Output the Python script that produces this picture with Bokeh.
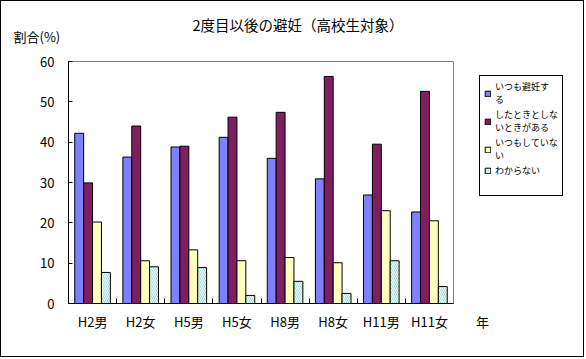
from bokeh.plotting import figure
from bokeh.models import (ColumnDataSource, FixedTicker, Legend, LegendItem, LinearAxis, Span, Title)
from bokeh.transform import dodge
from bokeh.embed import file_html
from bokeh.resources import INLINE

# ---- data ----
categories = ["H2男", "H2女", "H5男", "H5女", "H8男", "H8女", "H11男", "H11女"]
always = [42.2, 36.3, 38.8, 41.2, 36.0, 30.9, 26.9, 22.7]
sometimes = [29.9, 44.0, 39.0, 46.2, 47.4, 56.3, 39.5, 52.6]
never = [20.2, 10.6, 13.3, 10.6, 11.4, 10.1, 23.0, 20.5]
unknown = [7.7, 9.1, 8.9, 2.0, 5.5, 2.5, 10.6, 4.2]
series_names = ["いつも避妊す\nる", "したときとしな\nいときがある", "いつもしていな\nい", "わからない"]
y_ticks = [0, 10, 20, 30, 40, 50, 60]
title_text = "2度目以後の避妊（高校生対象）"
ylabel_text = "割合(%)"
xlabel_text = "年"

FONT = "Noto Sans CJK JP"
N = len(categories)
xc = [i + 0.5 for i in range(N)]
src = ColumnDataSource(dict(x=xc, a=always, s=sometimes, n=never, u=unknown))

# layout: plot area 68..453 px for 8 categories; frame extended to the right for legend / "年"
W, H = 584, 357
ML, MR, MT, MB = 67, 2, 60, 55
px_per_cat = (453 - 68) / N
x_end = (W - ML - MR) / px_per_cat
year_pos = (482 - 68) / px_per_cat

p = figure(width=W, height=H, x_range=(0, x_end), y_range=(0, 60),
           output_backend="svg", toolbar_location=None,
           min_border_left=ML, min_border_right=MR, min_border_top=MT, min_border_bottom=MB)
p.styles = {"border": "1px solid black"}
p.background_fill_color = "white"
p.border_fill_color = "white"
p.outline_line_color = None
p.xgrid.visible = False
p.ygrid.visible = False

bw = 0.185
offs = [-1.5 * bw, -0.5 * bw, 0.5 * bw, 1.5 * bw]
r1 = p.vbar(x=dodge("x", offs[0], range=p.x_range), top="a", width=bw, source=src,
            fill_color="#8080FF", line_color="black", line_width=1)
r2 = p.vbar(x=dodge("x", offs[1], range=p.x_range), top="s", width=bw, source=src,
            fill_color="#801F60", line_color="black", line_width=1)
r3 = p.vbar(x=dodge("x", offs[2], range=p.x_range), top="n", width=bw, source=src,
            fill_color="#FFFFC0", line_color="black", line_width=1)
r4 = p.vbar(x=dodge("x", offs[3], range=p.x_range), top="u", width=bw, source=src,
            fill_color="#9EDEDE", line_color="black", line_width=1,
            hatch_pattern="\\", hatch_color="white", hatch_scale=4, hatch_weight=1)
# invisible renderer used only to give the legend box its empty lower part
r_blank = p.scatter(x=[], y=[], size=0, fill_alpha=0, line_alpha=0)

# bottom axis A: baseline + boundary ticks
ax = p.xaxis[0]
ax.bounds = (0, N)
ax.ticker = FixedTicker(ticks=[], minor_ticks=list(range(0, N + 1)))
ax.minor_tick_in = 5
ax.minor_tick_out = 0
ax.minor_tick_line_color = "black"
ax.major_tick_line_color = None
ax.axis_line_color = "black"
ax.major_label_text_font_size = "0px"
ax.major_label_standoff = 0

# bottom axis B: category labels and "年"
bx = LinearAxis(ticker=FixedTicker(ticks=xc + [year_pos]),
                major_label_overrides={**{c: lab for c, lab in zip(xc, categories)}, year_pos: xlabel_text},
                axis_line_color=None, major_tick_line_color=None, minor_tick_line_color=None,
                major_label_standoff=2, major_label_text_font=FONT,
                major_label_text_font_size="13px", major_label_text_color="black")
p.add_layout(bx, "below")

# top gray border line
tx = LinearAxis(bounds=(0, N), ticker=FixedTicker(ticks=[]), axis_line_color="#808080",
                major_tick_line_color=None, minor_tick_line_color=None,
                major_label_text_font_size="0px", major_label_standoff=0)
p.add_layout(tx, "above")
# right gray border line
p.add_layout(Span(location=N, dimension="height", line_color="#808080", line_width=1))

p.yaxis.ticker = FixedTicker(ticks=y_ticks)
p.yaxis.minor_tick_line_color = None
p.yaxis.major_tick_in = 4
p.yaxis.major_tick_out = 0
p.yaxis.axis_line_color = "black"
p.yaxis.major_tick_line_color = "black"
p.yaxis.major_label_standoff = 14
p.yaxis.major_label_text_font = FONT
p.yaxis.major_label_text_font_size = "13px"
p.yaxis.major_label_text_color = "black"

# texts above
p.add_layout(Title(text=ylabel_text, align="left", offset=13 - 68, text_font=FONT,
                   text_font_size="13px", text_font_style="normal", text_color="black",
                   standoff=31), "above")
p.add_layout(Title(text=title_text, align="left", offset=192 - 68, text_font=FONT,
                   text_font_size="14.5px", text_font_style="normal", text_color="black",
                   standoff=-51), "above")

legend = Legend(items=[LegendItem(label=n, renderers=[r]) for n, r in zip(series_names, [r1, r2, r3, r4])]
                + [LegendItem(label=" \n ", renderers=[r_blank])],
                location=(411, 107))
legend.border_line_color = "black"
legend.border_line_alpha = 1
legend.border_line_width = 1
legend.background_fill_color = "white"
legend.background_fill_alpha = 1
legend.label_text_font = FONT
legend.label_text_font_size = "9px"
legend.label_text_color = "black"
legend.glyph_width = 7
legend.glyph_height = 7
legend.label_standoff = 4
legend.padding = 4
legend.spacing = 2
legend.margin = 0
legend.label_height = 12
p.add_layout(legend, "center")

open("out.html", "w").write(file_html(p, INLINE))
